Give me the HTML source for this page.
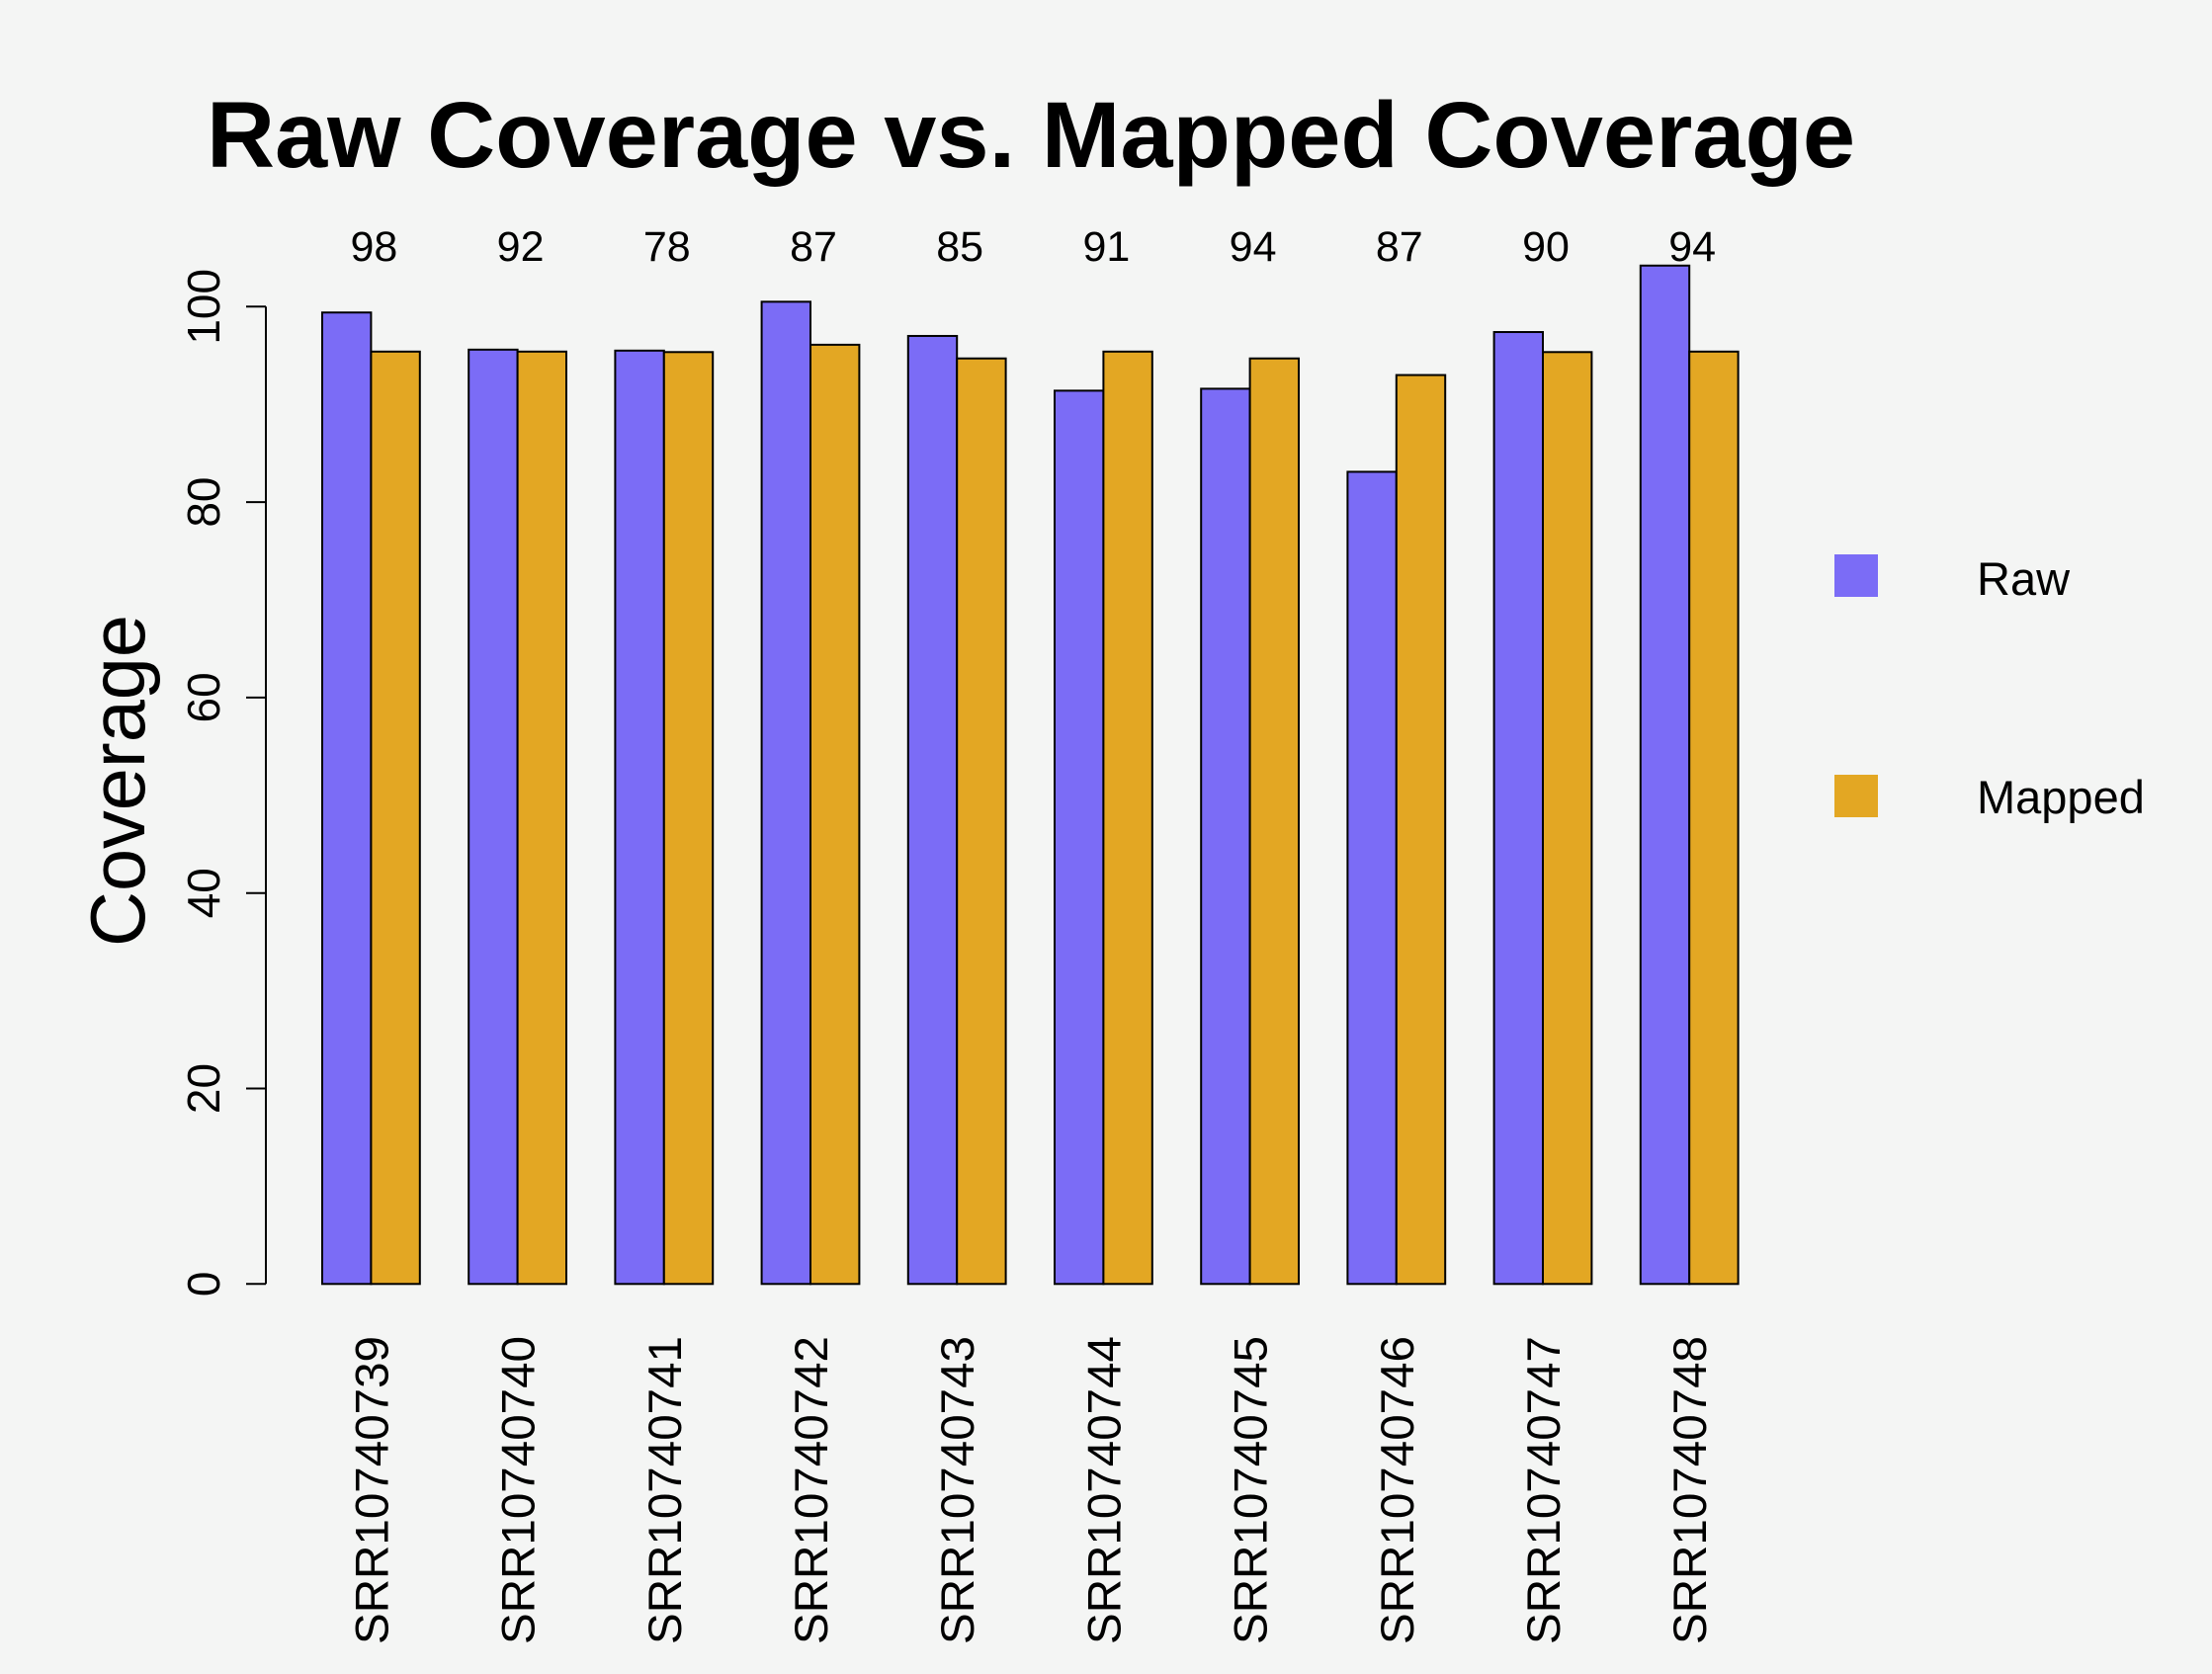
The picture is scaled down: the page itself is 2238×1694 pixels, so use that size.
<!DOCTYPE html>
<html><head><meta charset="utf-8"><style>
html,body{margin:0;padding:0;background:#f4f5f4;}
svg{display:block;font-family:"Liberation Sans",Arial,sans-serif;}
</style></head><body>
<svg id="chart" width="2238" height="1694" viewBox="0 0 2238 1694" xmlns="http://www.w3.org/2000/svg">
<rect width="2238" height="1694" fill="#f4f5f4"/>
<text x="1043" y="169" text-anchor="middle" font-size="95" font-weight="bold" textLength="1668" lengthAdjust="spacingAndGlyphs">Raw Coverage vs. Mapped Coverage</text>
<text transform="translate(146,790) rotate(-90)" text-anchor="middle" font-size="78" textLength="336" lengthAdjust="spacingAndGlyphs">Coverage</text>
<g id="axis"></g>
<g id="bars"></g>
<g id="labels"></g>
<g id="legend">
<rect x="1856" y="561" width="44" height="43" fill="#7b6cf6"/>
<text x="2000" y="602" font-size="47">Raw</text>
<rect x="1856" y="784" width="44" height="43" fill="#e3a723"/>
<text x="2000" y="823" font-size="47">Mapped</text>
</g>
</svg>
<script>
const categories = ["SRR10740739","SRR10740740","SRR10740741","SRR10740742","SRR10740743","SRR10740744","SRR10740745","SRR10740746","SRR10740747","SRR10740748"];
const rawValues = [99.4, 95.6, 95.5, 100.5, 97.0, 91.4, 91.6, 83.1, 97.4, 104.2];
const mappedValues = [95.4, 95.4, 95.35, 96.1, 94.7, 95.4, 94.7, 93.0, 95.35, 95.4];
const topLabels = ["98","92","78","87","85","91","94","87","90","94"];
const yTicks = [0, 20, 40, 60, 80, 100];

const NS = "http://www.w3.org/2000/svg";
const y0 = 1299.3, pxPerUnit = 9.89;
const barW = 49.4, groupStep = 148.2, firstX = 326;
function yScale(v){ return y0 - v * pxPerUnit; }
function xGroup(i){ return firstX + i * groupStep; }
function mk(tag, attrs, parent){
  const el = document.createElementNS(NS, tag);
  for (const k in attrs) el.setAttribute(k, attrs[k]);
  parent.appendChild(el);
  return el;
}
const axis = document.getElementById('axis');
const al = mk('line', {x1:269, x2:269, y1:yScale(100), y2:yScale(0), stroke:'#000', 'stroke-width':2}, axis);


yTicks.forEach(t => {
  const tk = mk('line', {x1:249, x2:269, y1:yScale(t), y2:yScale(t), stroke:'#000', 'stroke-width':2}, axis);
  
  
  const tl = mk('text', {transform:`translate(222,${yScale(t)}) rotate(-90)`, 'text-anchor':'middle', 'font-size':46}, axis);
  tl.textContent = String(t);
  
  
});
const bars = document.getElementById('bars');
const labels = document.getElementById('labels');
categories.forEach((c, i) => {
  const x = xGroup(i);
  const r = mk('rect', {x:x, y:yScale(rawValues[i]), width:barW, height:yScale(0)-yScale(rawValues[i]), fill:'#7b6cf6', stroke:'#000', 'stroke-width':2}, bars);
  
  
  const m = mk('rect', {x:x+barW, y:yScale(mappedValues[i]), width:barW, height:yScale(0)-yScale(mappedValues[i]), fill:'#e3a723', stroke:'#000', 'stroke-width':2}, bars);
  
  
  const cx = x + barW;
  const tl = mk('text', {x:cx+3, y:264, 'text-anchor':'middle', 'font-size':43}, labels);
  tl.textContent = topLabels[i];
  
  
  const xl = mk('text', {transform:`translate(${cx+17},1352) rotate(-90)`, 'text-anchor':'end', 'font-size':47, textLength:312, lengthAdjust:'spacingAndGlyphs'}, labels);
  xl.textContent = c;
  
  
});
</script>
</body></html>
